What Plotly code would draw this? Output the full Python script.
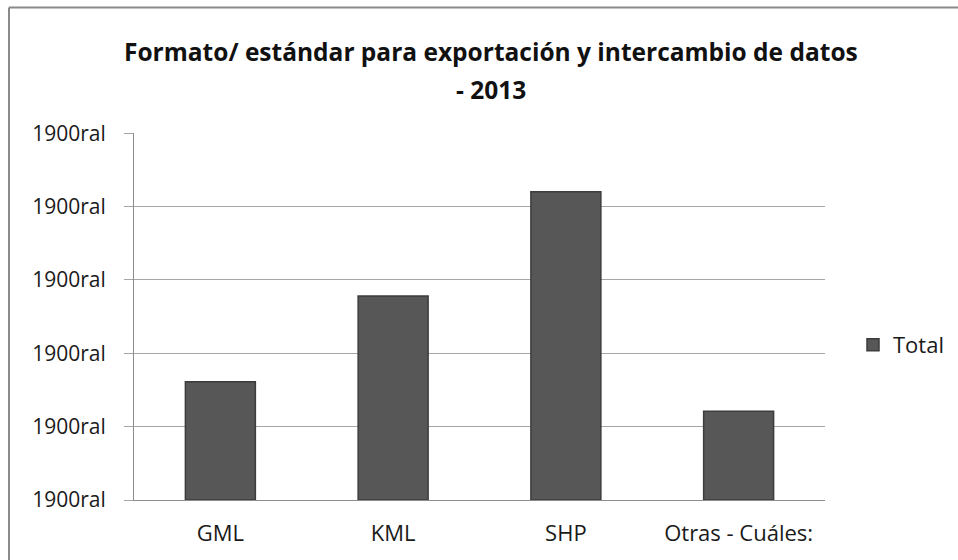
import plotly.graph_objects as go

# values (axis units: one gridline step = 1)
categories = ["GML", "KML", "SHP", "Otras - Cuáles:"]
totals = [1.61, 2.78, 4.20, 1.21]
tick_vals = [0, 1, 2, 3, 4, 5]
tick_text = ["1900ral"] * 6
title_lines = ["Formato/ estándar para exportación y intercambio de datos", "- 2013"]

FONT = "Open Sans, sans-serif"

fig = go.Figure()
fig.add_trace(go.Bar(
    x=categories,
    y=totals,
    name="Total",
    width=0.405,
    marker=dict(color="#575757", line=dict(color="#3c3c3c", width=1.5)),
))

# plot area in pixels
L, R, T, B = 134, 825, 133, 500
pw, ph = R - L, B - T


def px_x(x):
    return (x - L) / pw


def px_y(y):
    return (B - y) / ph


# frame of the chart object (only top and left edges visible)
fig.add_shape(type="line", xref="paper", yref="paper",
              x0=px_x(9), x1=px_x(960), y0=px_y(7.5), y1=px_y(7.5),
              line=dict(color="#8a8a8a", width=2))
fig.add_shape(type="line", xref="paper", yref="paper",
              x0=px_x(9), x1=px_x(9), y0=px_y(7.5), y1=px_y(562),
              line=dict(color="#8a8a8a", width=2))

# two-line title, placed line by line
for text, ycen in zip(title_lines, [51, 89]):
    fig.add_annotation(text=f"<b>{text}</b>", xref="paper", yref="paper",
                       x=px_x(491), y=px_y(ycen), xanchor="center", yanchor="middle",
                       showarrow=False, font=dict(family=FONT, size=24.5, color="#111111"))

fig.update_layout(
    width=958,
    height=560,
    margin=dict(l=L, r=958 - R, t=T, b=560 - B, autoexpand=False),
    paper_bgcolor="white",
    plot_bgcolor="white",
    font=dict(family=FONT, color="#1a1a1a", size=21),
    showlegend=True,
    legend=dict(x=px_x(853), y=px_y(345), xanchor="left", yanchor="middle",
                font=dict(size=22), itemwidth=30),
    bargap=0.6,
)
fig.update_xaxes(
    showline=True, linecolor="#8c8c8c", linewidth=1,
    ticks="", tickfont=dict(size=22), ticklabelstandoff=14,
    showgrid=False, automargin=False,
)
fig.update_yaxes(
    range=[0, 5.002], tickvals=tick_vals, ticktext=tick_text,
    showgrid=True, gridcolor="#a6a6a6", gridwidth=1,
    showline=True, linecolor="#8c8c8c", linewidth=1,
    ticks="outside", ticklen=9, tickcolor="#a6a6a6", ticklabelstandoff=14,
    tickfont=dict(size=21), zeroline=False, automargin=False,
)

fig.write_html("out.html", config={"displayModeBar": False},
               post_script="document.body.style.margin='0';")
